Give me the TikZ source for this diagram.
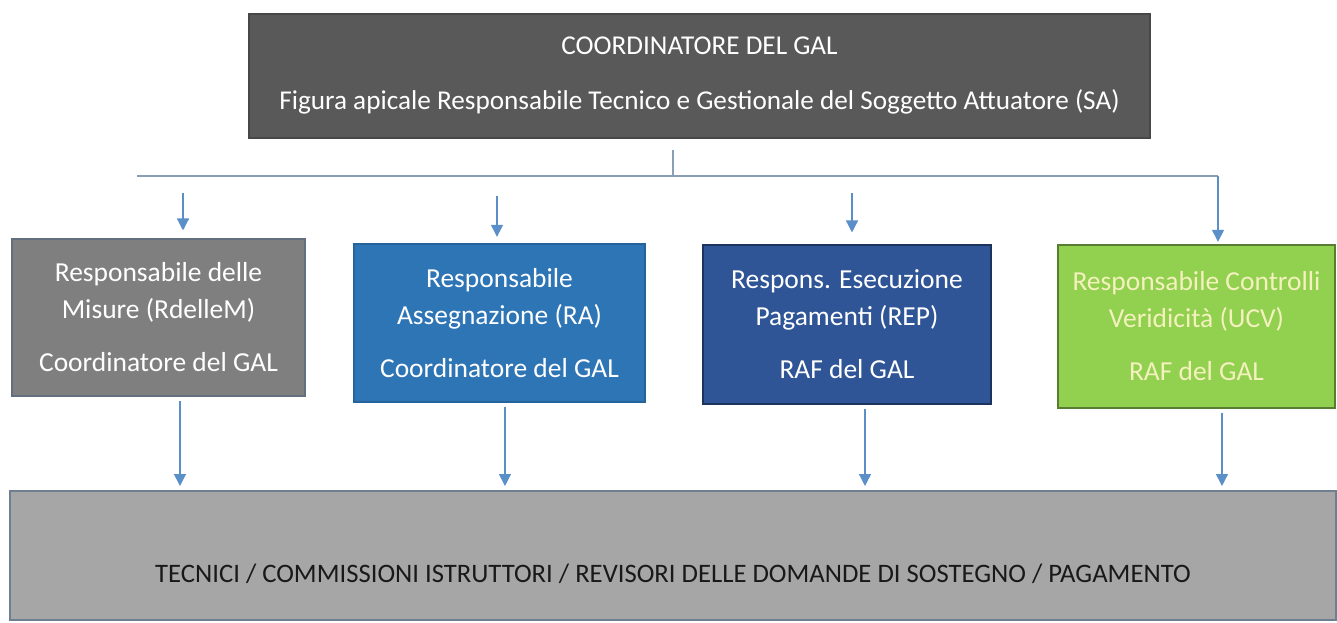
\documentclass[tikz,border=0pt]{standalone}
\usepackage{fontspec}
\setmainfont{Carlito}
\usetikzlibrary{ arrows.meta, % For the triangle tips
                 positioning,
               }
\definecolor{topgray}{HTML}{595959}
\definecolor{midgray}{HTML}{7F7F7F}
\definecolor{lowgray}{HTML}{A6A6A6}
\definecolor{ablue}{HTML}{2E75B6}
\definecolor{dblue}{HTML}{2F5597}
\definecolor{lgreen}{HTML}{92D050}
\definecolor{paleyellow}{HTML}{F4F1BE}
\definecolor{arrowblue}{HTML}{5B8FC7}
\definecolor{busgray}{HTML}{8A9FB5}
\tikzstyle{box} = [rectangle, align=center, text=white, inner sep=0pt, line width=0.8pt, font=\fontsize{20.6}{27.75}\selectfont]
\tikzstyle{link} = [draw=arrowblue, line width=1pt, -{Triangle[width=9pt,length=9pt]}]
\tikzstyle{bus} = [draw=busgray, line width=1pt]

\begin{document}
\begin{tikzpicture}[x=0.75pt, y=-0.75pt]
  \useasboundingbox (0,0) rectangle (1337,622);
  % top box
  \node (coord) [box, fill=topgray, draw=topgray!80!black, minimum width=675.75pt, minimum height=93pt,
        font=\fontsize{20.4}{41.25}\selectfont] at (699.5,76)
        {COORDINATORE DEL GAL\\Figura apicale Responsabile Tecnico e Gestionale del Soggetto Attuatore (SA)};
  % the four responsibles
  \node (rm) [box, fill=midgray, draw=busgray!70!black, minimum width=219.75pt, minimum height=117.75pt] at (158.5,317.5)
        {Responsabile delle\\Misure (RdelleM)\\[12pt]Coordinatore del GAL};
  \node (ra) [box, fill=ablue, draw=ablue!85!black, minimum width=218.25pt, minimum height=118.5pt] at (499.5,323)
        {Responsabile\\Assegnazione (RA)\\[12pt]Coordinatore del GAL};
  \node (rep) [box, fill=dblue, draw=dblue!60!black, minimum width=216pt, minimum height=119.25pt] at (847,324.5)
        {Respons. Esecuzione\\Pagamenti (REP)\\[12pt]RAF del GAL};
  \node (ucv) [box, fill=lgreen, text=paleyellow, draw=lgreen!60!black, minimum width=207.75pt, minimum height=122.25pt] at (1196.5,326.5)
        {Responsabile Controlli\\Veridicità (UCV)\\[12pt]RAF del GAL};
  % bottom box
  \node (tec) [box, fill=lowgray, draw=busgray!80!black, line width=1.5pt, text=black!90, minimum width=994.5pt, minimum height=96.75pt,
        text height=41pt, text depth=0pt, font=\fontsize{20}{24}\selectfont] at (673,555.5)
        {TECNICI / COMMISSIONI ISTRUTTORI / REVISORI DELLE DOMANDE DI SOSTEGNO / PAGAMENTO};

  % bus
  \coordinate (trunk) at (673,150);
  \coordinate (busM) at (673,176);
  \coordinate (busL) at (137,176);
  \coordinate (busR) at (1218,176);
  \draw [bus] (trunk) -- (busM);
  \draw [bus] (busL) -- (busR);
  \coordinate (a1) at (183,193);
  \coordinate (a2) at (497,196);
  \coordinate (a3) at (852,193);
  \draw [link, shorten >=6pt] (a1) -- (a1 |- rm.north);
  \draw [link, shorten >=5pt] (a2) -- (a2 |- ra.north);
  \draw [link, shorten >=9pt] (a3) -- (a3 |- rep.north);
  \draw [link, shorten >=2pt] (busR) -- (busR |- ucv.north);
  % down to the bottom box
  \foreach \b/\s in {rm/16.1pt, ra/4.1pt, rep/13.5pt, ucv/19.1pt}
    \draw [link, shorten <=3pt, shorten >=3pt] ([xshift=\s]\b.south) -- ([xshift=\s]\b.south |- tec.north);
\end{tikzpicture}
\end{document}
